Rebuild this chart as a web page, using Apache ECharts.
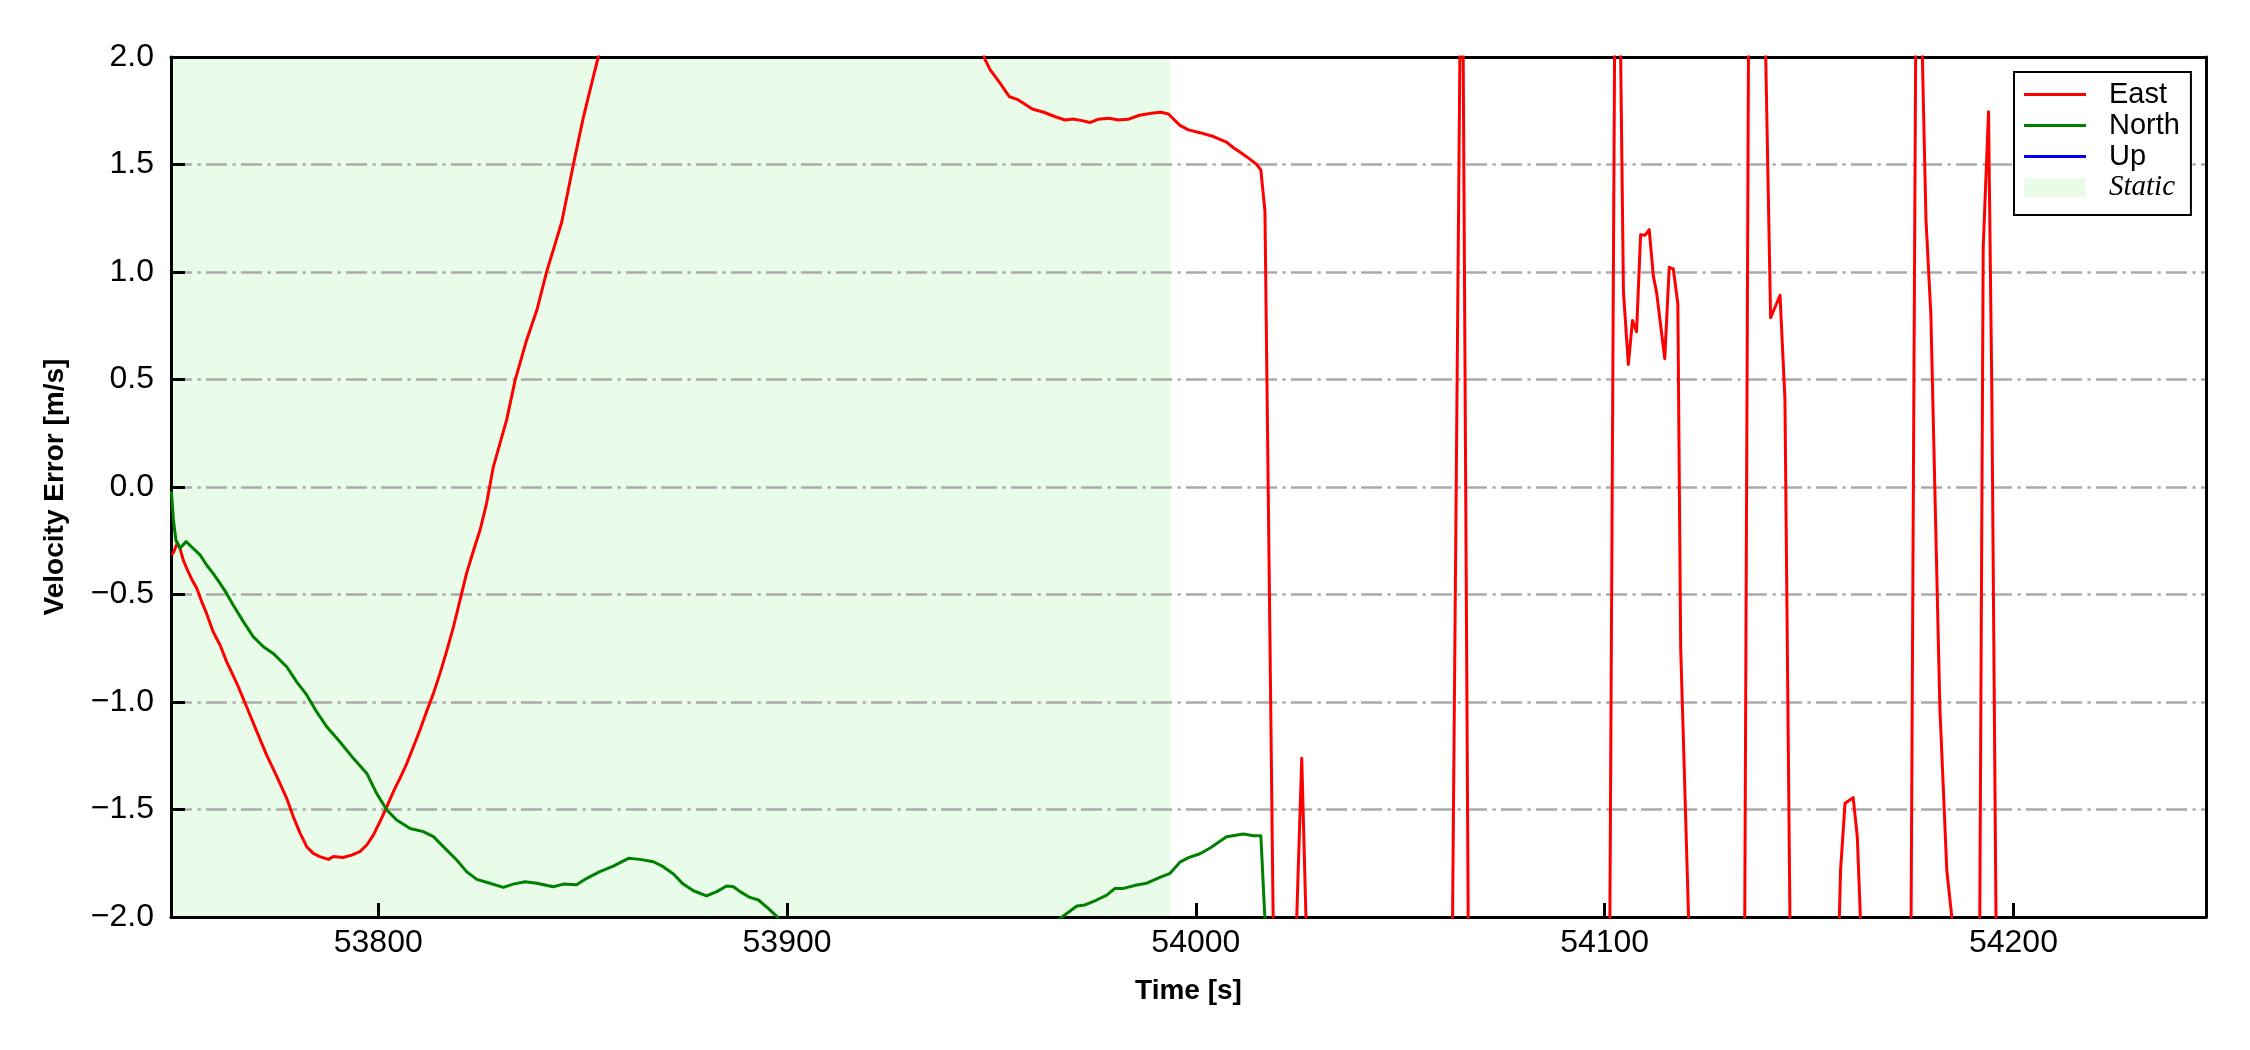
<!DOCTYPE html>
<html>
<head>
<meta charset="utf-8">
<script src="https://cdn.jsdelivr.net/npm/echarts@6/dist/echarts.min.js"></script>
<style>
  html, body { margin: 0; padding: 0; background: #ffffff; }
  #chart { width: 2250px; height: 1050px; }
</style>
</head>
<body>
<div id="chart"></div>
<script>
// ---- axis ranges / ticks ----
const xRange = [53749.3, 54247.1];
const yRange = [-2, 2];
const xTicks = [53800, 53900, 54000, 54100, 54200];
const yTicks = [-2.0, -1.5, -1.0, -0.5, 0.0, 0.5, 1.0, 1.5, 2.0];

// ---- static period (shaded) ----
const staticSpan = [53749.3, 53993.8];

// ---- East velocity error ----
const eastTime = [
  53749.5, 53750.0, 53750.85, 53751.5, 53752.3, 53753.5, 53754.4, 53755.6, 53756.8, 53758.0,
  53759.6, 53761.3, 53762.9, 53765.4, 53767.8, 53770.3, 53772.7, 53775.2, 53777.6, 53779.2,
  53780.9, 53782.5, 53784.1, 53785.7, 53787.8, 53789.0, 53791.4, 53793.5, 53795.5, 53797.2,
  53798.8, 53800.4, 53802.1, 53803.7, 53805.3, 53807.0, 53808.6, 53810.2, 53811.8, 53813.5,
  53815.1, 53816.7, 53818.4, 53820.0, 53821.6, 53823.2, 53824.9, 53826.5, 53828.1, 53831.4,
  53833.5, 53836.3, 53838.8, 53841.2, 53844.9, 53847.7, 53850.2, 53852.6, 53853.8, 53856.0,
  53880.0, 53920.0, 53945.0, 53948.3, 53949.7, 53952.1, 53954.4, 53956.3, 53958.1, 53960.0,
  53962.8, 53965.6, 53968.0, 53969.9, 53972.2, 53974.1, 53976.0, 53978.8, 53981.1, 53983.4,
  53986.2, 53989.1, 53991.4, 53993.3, 53996.1, 53998.2, 54001.0, 54004.3, 54007.5, 54009.2,
  54011.2, 54013.2, 54014.9, 54015.9, 54016.9, 54017.7, 54018.9, 54019.3, 54022.0, 54024.6,
  54025.9, 54027.0, 54040.0, 54055.0, 54062.75, 54064.65, 54065.35, 54066.65, 54080.0, 54095.0,
  54101.25, 54102.45, 54103.85, 54104.6, 54105.8, 54106.8, 54107.8, 54108.8, 54109.9, 54110.9,
  54111.9, 54112.7, 54114.7, 54115.8, 54116.8, 54117.9, 54118.6, 54119.3, 54120.6, 54128.0,
  54134.25, 54135.2, 54139.3, 54140.6, 54142.9, 54144.1, 54145.35, 54152.0, 54157.35, 54157.7,
  54158.8, 54160.8, 54161.8, 54162.65, 54170.0, 54174.95, 54176.1, 54177.6, 54178.6, 54179.8,
  54182.0, 54183.7, 54185.2, 54189.0, 54191.75, 54192.6, 54193.9, 54194.7, 54195.75, 54210.0,
  54230.0, 54247.0
];
const eastValues = [
  -0.316, -0.301, -0.259, -0.285, -0.340, -0.394, -0.430, -0.471, -0.533, -0.588,
  -0.673, -0.735, -0.812, -0.913, -1.022, -1.138, -1.247, -1.347, -1.448, -1.533,
  -1.611, -1.673, -1.704, -1.719, -1.732, -1.719, -1.723, -1.712, -1.696, -1.665,
  -1.619, -1.557, -1.487, -1.417, -1.355, -1.285, -1.208, -1.130, -1.045, -0.960,
  -0.867, -0.766, -0.650, -0.526, -0.402, -0.301, -0.200, -0.076, 0.090, 0.312,
  0.498, 0.684, 0.823, 1.002, 1.234, 1.498, 1.722, 1.908, 1.998, 2.35,
  3.1, 3.2, 2.3, 1.994, 1.940, 1.878, 1.815, 1.803, 1.781, 1.758,
  1.743, 1.722, 1.707, 1.712, 1.704, 1.695, 1.710, 1.715, 1.707, 1.710,
  1.729, 1.738, 1.743, 1.735, 1.682, 1.661, 1.648, 1.630, 1.604, 1.578,
  1.552, 1.525, 1.500, 1.474, 1.283, -0.009, -1.993, -2.10, -2.60, -2.05,
  -1.262, -2.05, -2.80, -2.60, -2.10, 2.15, 2.15, -2.10, -2.80, -2.60,
  -2.10, 2.10, 2.10, 0.905, 0.570, 0.774, 0.722, 1.173, 1.171, 1.197,
  0.983, 0.905, 0.597, 1.022, 1.014, 0.853, -0.750, -1.200, -2.05, -2.70,
  -2.10, 2.10, 2.10, 0.787, 0.892, 0.409, -2.05, -2.70, -2.05, -1.784,
  -1.471, -1.445, -1.627, -2.05, -2.70, -2.05, 2.10, 2.10, 1.244, 0.800,
  -1.027, -1.784, -2.05, -2.60, -2.05, 1.113, 1.745, 0.461, -2.05, -2.80,
  -2.60, -2.70
];

// ---- North velocity error ----
const northTime = [
  53749.4, 53749.9, 53750.5, 53751.5, 53753.0, 53754.7, 53756.4, 53758.0, 53759.6, 53761.3,
  53762.9, 53764.5, 53767.0, 53769.4, 53771.9, 53774.3, 53777.6, 53780.0, 53782.5, 53784.9,
  53787.4, 53790.6, 53793.9, 53797.2, 53799.6, 53802.1, 53804.5, 53807.8, 53811.0, 53813.5,
  53816.7, 53819.2, 53821.6, 53824.1, 53827.3, 53830.6, 53833.0, 53835.9, 53838.8, 53842.8,
  53845.3, 53848.5, 53851.0, 53854.2, 53857.5, 53861.2, 53864.0, 53867.3, 53869.7, 53872.2,
  53874.6, 53877.1, 53880.3, 53882.8, 53885.2, 53886.9, 53888.5, 53890.9, 53893.0, 53895.4,
  53897.6, 53898.6, 53915.0, 53950.0, 53963.0, 53970.9, 53972.9, 53975.7, 53978.2, 53980.2,
  53982.3, 53985.5, 53988.0, 53991.2, 53993.7, 53996.1, 53998.2, 54001.0, 54003.5, 54007.5,
  54011.6, 54014.1, 54015.9, 54017.0, 54060.0, 54150.0, 54247.0
];
const northValues = [
  -0.020, -0.153, -0.247, -0.285, -0.254, -0.285, -0.316, -0.363, -0.402, -0.448,
  -0.495, -0.549, -0.626, -0.696, -0.743, -0.774, -0.836, -0.905, -0.967, -1.045,
  -1.115, -1.185, -1.262, -1.332, -1.425, -1.502, -1.549, -1.588, -1.603, -1.626,
  -1.688, -1.735, -1.789, -1.825, -1.843, -1.862, -1.847, -1.836, -1.843, -1.859,
  -1.847, -1.850, -1.820, -1.789, -1.763, -1.727, -1.732, -1.743, -1.766, -1.800,
  -1.847, -1.878, -1.902, -1.882, -1.856, -1.859, -1.882, -1.909, -1.921, -1.960,
  -1.999, -2.05, -2.40, -2.40, -2.06, -1.949, -1.944, -1.921, -1.898, -1.867,
  -1.867, -1.851, -1.843, -1.816, -1.797, -1.745, -1.724, -1.706, -1.679, -1.627,
  -1.614, -1.622, -1.622, -2.05, -2.60, -2.50, -2.40
];

// ---- Up velocity error (no part of it falls inside the visible range) ----
const upTime = [];
const upValues = [];

const pairs = (t, v) => t.map((x, i) => [x, v[i]]);

const FONT = "'Liberation Sans', Arial, sans-serif";
const chart = echarts.init(document.getElementById('chart'), null, { renderer: 'canvas' });

const lineIcon = 'path://M0,0 L62,0 L62,3 L0,3 Z';

chart.setOption({
  animation: false,
  backgroundColor: '#ffffff',
  grid: { left: 171, top: 57, width: 2035, height: 860, containLabel: false },
  legend: {
    orient: 'vertical',
    left: 2014,
    top: 72,
    padding: [7, 11, 12, 10],
    itemGap: 0,
    itemWidth: 62,
    itemHeight: 19,
    borderColor: '#000000',
    borderWidth: 2,
    borderRadius: 0,
    backgroundColor: '#ffffff',
    textStyle: { fontFamily: FONT, fontSize: 29, color: '#000000', lineHeight: 31, padding: [0, 0, 0, 18] },
    data: [
      { name: 'East', icon: lineIcon, itemStyle: { color: '#ff0000' } },
      { name: 'North', icon: lineIcon, itemStyle: { color: '#008000' } },
      { name: 'Up', icon: lineIcon, itemStyle: { color: '#0000ff' } },
      { name: 'Static', icon: 'rect', itemStyle: { color: '#e9fce9' },
        textStyle: { fontFamily: "'Liberation Serif', 'Times New Roman', serif", fontStyle: 'italic', fontSize: 29, lineHeight: 31 } }
    ]
  },
  xAxis: [
    {
      type: 'value',
      min: xRange[0], max: xRange[1],
      z: 1,
      name: 'Time [s]',
      nameLocation: 'middle',
      nameGap: 60,
      nameTextStyle: { fontFamily: FONT, fontSize: 28, fontWeight: 'bold', color: '#000000' },
      axisLine: { show: true, onZero: false, lineStyle: { color: '#000000', width: 3 } },
      axisTick: { show: true, inside: true, length: 14, customValues: xTicks, lineStyle: { color: '#000000', width: 3 } },
      axisLabel: {
        show: true, margin: 10, customValues: xTicks,
        fontFamily: FONT, fontSize: 32, color: '#000000',
        formatter: v => (Math.abs(v % 100) < 1e-6 ? String(Math.round(v)) : '')
      },
      splitLine: { show: false }
    },
    {
      type: 'value', position: 'top',
      min: xRange[0], max: xRange[1], z: 1,
      axisLine: { show: true, onZero: false, lineStyle: { color: '#000000', width: 3 } },
      axisTick: { show: false }, axisLabel: { show: false }, splitLine: { show: false }
    }
  ],
  yAxis: [
    {
      type: 'value',
      min: yRange[0], max: yRange[1], interval: 0.5,
      z: 1,
      name: 'Velocity Error [m/s]',
      nameLocation: 'middle',
      nameGap: 102,
      nameRotate: 90,
      nameTextStyle: { fontFamily: FONT, fontSize: 28, fontWeight: 'bold', color: '#000000' },
      axisLine: { show: true, onZero: false, lineStyle: { color: '#000000', width: 3 } },
      axisTick: { show: true, inside: true, length: 14, lineStyle: { color: '#000000', width: 3 } },
      axisLabel: {
        show: true, margin: 17, fontFamily: FONT, fontSize: 32, color: '#000000',
        formatter: v => (v < 0 ? '\u2212' : '') + Math.abs(v).toFixed(1)
      },
      splitLine: {
        show: true, showMinLine: false, showMaxLine: false,
        lineStyle: { color: '#aaaaaa', width: 2.6, type: [21, 5.5, 3.3, 5.2], cap: 'butt' }
      }
    },
    {
      type: 'value', position: 'right',
      min: yRange[0], max: yRange[1], interval: 0.5, z: 1,
      axisLine: { show: true, onZero: false, lineStyle: { color: '#000000', width: 3 } },
      axisTick: { show: false }, axisLabel: { show: false }, splitLine: { show: false }
    }
  ],
  series: [
    {
      name: 'Static',
      type: 'custom',
      xAxisIndex: 0, yAxisIndex: 0,
      z: 0,
      clip: true,
      itemStyle: { color: '#e9fce9' },
      data: [[staticSpan[0], staticSpan[1]]],
      encode: { x: [0, 1] },
      renderItem: function (params, api) {
        const p0 = api.coord([api.value(0), yRange[1]]);
        const p1 = api.coord([api.value(1), yRange[0]]);
        return {
          type: 'rect',
          shape: { x: p0[0], y: p0[1], width: p1[0] - p0[0], height: p1[1] - p0[1] },
          style: { fill: '#e9fce9' }
        };
      }
    },
    {
      name: 'East', type: 'line', xAxisIndex: 0, yAxisIndex: 0,
      data: pairs(eastTime, eastValues),
      showSymbol: false, symbol: 'none', clip: true, z: 3,
      color: '#ff0000',
      lineStyle: { color: '#ff0000', width: 3, join: 'round' }
    },
    {
      name: 'North', type: 'line', xAxisIndex: 0, yAxisIndex: 0,
      data: pairs(northTime, northValues),
      showSymbol: false, symbol: 'none', clip: true, z: 3,
      color: '#008000',
      lineStyle: { color: '#008000', width: 3, join: 'round' }
    },
    {
      name: 'Up', type: 'line', xAxisIndex: 0, yAxisIndex: 0,
      data: pairs(upTime, upValues),
      showSymbol: false, symbol: 'none', clip: true, z: 3,
      color: '#0000ff',
      lineStyle: { color: '#0000ff', width: 3 }
    }
  ]
});
</script>
</body>
</html>
